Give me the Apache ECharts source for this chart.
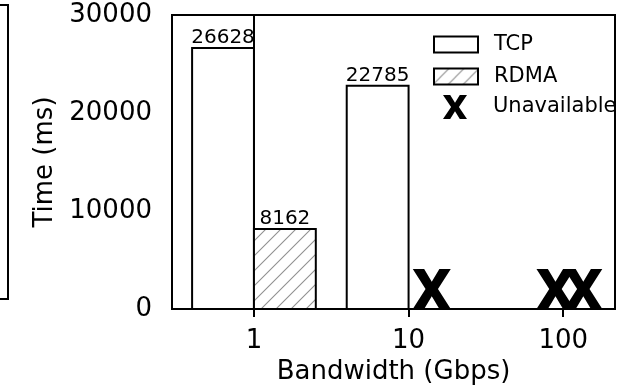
<!DOCTYPE html>
<html><head><meta charset="utf-8">
<script src="https://cdn.jsdelivr.net/npm/echarts@6/dist/echarts.min.js"></script>
<style>html,body{margin:0;padding:0;background:#fff}#c{width:634px;height:391px}</style>
</head><body><div id="c"></div>
<script>
// ---- data ----
const bandwidths = ['1', '10', '100'];          // x tick labels (Gbps)
const tcpValues = [26628, 22785, null];         // ms
const rdmaValues = [8162, null, null];          // ms
const unavailableX = [1.15, 1.95, 2.13];        // positions of "X" markers
const yTicks = [0, 10000, 20000, 30000];

// ---- styling ----
const FONT = 'DejaVu Sans';
const hatch = document.createElement('canvas');
hatch.width = 15; hatch.height = 15;
(function(){
  const g = hatch.getContext('2d');
  g.fillStyle = '#fff'; g.fillRect(0,0,15,15);
  g.strokeStyle = '#909090'; g.lineWidth = 1.1;
  g.beginPath();
  g.moveTo(-2,17); g.lineTo(17,-2);
  g.moveTo(-2,2); g.lineTo(2,-2);
  g.moveTo(13,17); g.lineTo(17,13);
  g.stroke();
})();
const hatchFill = {image: hatch, repeat: 'repeat'};
const XSHAPE = 'M0,0 L6.6,0 L11,7 L15.4,0 L22,0 L14.6,11 L22,22 L15.4,22 L11,15 L6.6,22 L0,22 L7.4,11 Z';
const XPATH = 'path://' + XSHAPE;
// legend version: same X, centred in a 2:1 box by two empty anchor points
const XLEGEND = 'path://M-11,11 L-11,11 Z M33,11 L33,11 Z ' + XSHAPE;

function barSeries(name, values, offset, fill) {
  const data = values.map((v, i) => [i, v]).filter(d => d[1] != null);
  return {
    type: 'custom', name, data,
    itemStyle: {color: fill, borderColor: '#000', borderWidth: 2},
    renderItem(params, api) {
      const x = api.value(0), v = api.value(1);
      const p0 = api.coord([x + offset, v]);
      const p1 = api.coord([x + offset + 0.4, 0]);
      return {
        type: 'rect',
        shape: {x: p0[0], y: p0[1], width: p1[0] - p0[0], height: p1[1] - p0[1]},
        style: {fill: fill, stroke: '#000', lineWidth: 2},
        textContent: {style: {text: String(v), fontSize: 20, fontFamily: FONT, fill: '#000'}},
        textConfig: {position: 'top', distance: -1}
      };
    },
    z: 2
  };
}

const chart = echarts.init(document.getElementById('c'), null, {renderer: 'canvas'});
chart.setOption({
  animation: false,
  backgroundColor: '#fff',
  textStyle: {fontFamily: FONT},
  grid: {left: 172, right: 19, top: 15, bottom: 82, show: true, borderColor: '#000', borderWidth: 2, backgroundColor: 'transparent'},
  xAxis: {
    type: 'value', min: -0.53, max: 2.335,
    name: 'Bandwidth (Gbps)', nameLocation: 'middle', nameGap: 45,
    nameTextStyle: {fontSize: 26, color: '#000', fontFamily: FONT},
    axisLine: {show: true, lineStyle: {color: '#000', width: 2}},
    axisTick: {show: true, inside: false, length: 8, customValues: [0, 1, 2], lineStyle: {color: '#000', width: 2}},
    axisLabel: {customValues: [0, 1, 2], margin: 19, fontSize: 26, color: '#000', fontFamily: FONT,
      formatter: v => bandwidths[Math.round(v)]},
    splitLine: {show: false}
  },
  yAxis: {
    type: 'value', min: yTicks[0], max: yTicks[yTicks.length - 1], interval: 10000,
    name: 'Time (ms)', nameLocation: 'middle', nameGap: 112, nameRotate: 90,
    nameTextStyle: {fontSize: 26, color: '#000', fontFamily: FONT},
    axisLine: {show: true, lineStyle: {color: '#000', width: 2}},
    axisTick: {show: true, inside: false, length: 8, lineStyle: {color: '#000', width: 2}},
    axisLabel: {margin: 20, fontSize: 26, color: '#000', fontFamily: FONT, formatter: v => String(v)},
    splitLine: {show: false}
  },
  legend: [{
    orient: 'vertical', left: 433, top: 34, padding: 0, itemWidth: 44, itemHeight: 16, itemGap: 11,
    textStyle: {fontSize: 21, color: '#000', fontFamily: FONT, padding: [0, 0, 0, 11]},
    data: [
      {name: 'TCP', icon: 'rect', itemStyle: {color: '#fff', borderColor: '#000', borderWidth: 2}},
      {name: 'RDMA', icon: 'rect', itemStyle: {color: hatchFill, borderColor: '#000', borderWidth: 2}}
    ]
  }, {
    orient: 'vertical', left: 431, top: 95, padding: 0, itemWidth: 48, itemHeight: 24,
    textStyle: {fontSize: 21, color: '#000', fontFamily: FONT, padding: [0, 0, 0, 9]},
    data: [{name: 'Unavailable', icon: XLEGEND, itemStyle: {color: '#000', opacity: 1}}]
  }],
  series: [
    barSeries('TCP', tcpValues, -0.4, '#fff'),
    barSeries('RDMA', rdmaValues, 0, hatchFill),
    {
      type: 'scatter', name: 'Unavailable',
      data: unavailableX.map(x => [x, 0]),
      symbol: XPATH, symbolSize: [38, 40], symbolKeepAspect: false, symbolOffset: [0, '-50%'],
      itemStyle: {color: '#000', opacity: 1}, z: 3
    }
  ],
  graphic: [{
    type: 'rect', shape: {x: -20, y: 5, width: 28, height: 294},
    style: {fill: 'none', stroke: '#000', lineWidth: 2}
  }]
});
</script></body></html>
